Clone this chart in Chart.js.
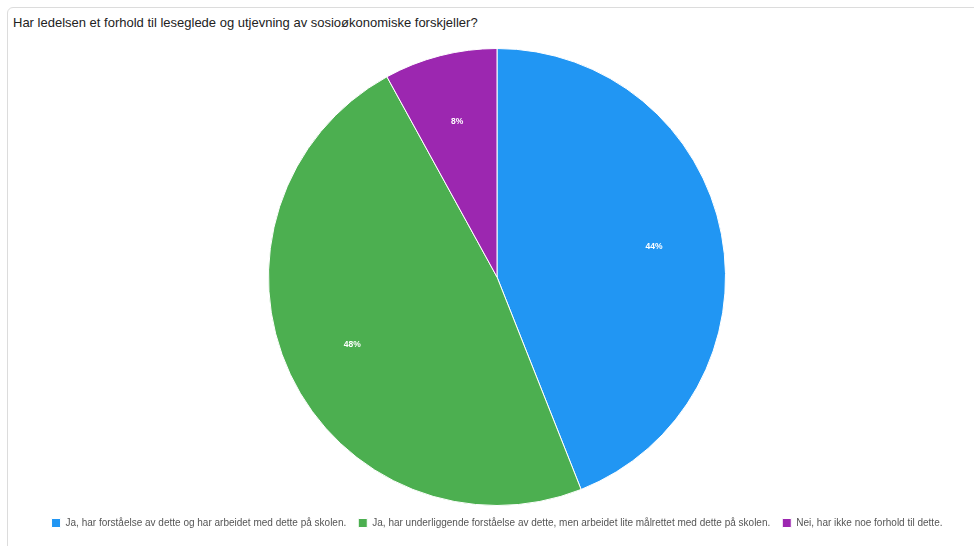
<!DOCTYPE html>
<html>
<head>
<meta charset="utf-8">
<script src="https://cdn.jsdelivr.net/npm/chart.js@4.4.1/dist/chart.umd.min.js"></script>
<style>
    html, body { margin: 0; padding: 0; background: #fff; }
    body { width: 974px; height: 546px; overflow: hidden; position: relative; font-family: "Liberation Sans", Arial, sans-serif; }
    .card { position: absolute; left: 7px; top: 7px; width: 990px; height: 560px; border: 1px solid #dcdcdc; border-radius: 6px; box-sizing: border-box; }
    .title { position: absolute; left: 13px; top: 15px; font-size: 13px; color: #222; white-space: nowrap; }
    #pieChart { position: absolute; left: 0; top: 0; }
</style>
</head>
<body>
<div class="card"></div>
<div class="title">Har ledelsen et forhold til leseglede og utjevning av sosioøkonomiske forskjeller?</div>
<canvas id="pieChart" width="974" height="546"></canvas>
<script>
document.addEventListener('DOMContentLoaded', function() {
    // answers
    const answerLabels = [
        'Ja, har forståelse av dette og har arbeidet med dette på skolen.',
        'Ja, har underliggende forståelse av dette, men arbeidet lite målrettet med dette på skolen.',
        'Nei, har ikke noe forhold til dette.'
    ];
    const answerShares = [44, 48, 8];
    const answerColors = ['#2196F3', '#4CAF50', '#9C27B0'];

    // percent text inside each slice
    const sliceLabels = {
        id: 'sliceLabels',
        afterDatasetsDraw(chart) {
            const ctx = chart.ctx;
            const meta = chart.getDatasetMeta(0);
            ctx.save();
            ctx.fillStyle = '#fff';
            ctx.font = 'bold 8.5px "Liberation Sans", Arial, sans-serif';
            ctx.textAlign = 'center';
            ctx.textBaseline = 'middle';
            meta.data.forEach((arc, i) => {
                const mid = (arc.startAngle + arc.endAngle) / 2;
                const r = arc.outerRadius * 0.7;
                ctx.fillText(answerShares[i] + '%', arc.x + Math.cos(mid) * r, arc.y + Math.sin(mid) * r);
            });
            ctx.restore();
        }
    };

    const ctx = document.getElementById('pieChart').getContext('2d');
    new Chart(ctx, {
        type: 'pie',
        data: {
            labels: answerLabels,
            datasets: [{
                data: answerShares,
                backgroundColor: answerColors,
                borderColor: '#fff',
                borderWidth: 1
            }]
        },
        options: {
            responsive: false,
            animation: false,
            layout: {
                padding: { top: 48, left: 20, right: 0, bottom: 8 }
            },
            plugins: {
                legend: {
                    position: 'bottom',
                    labels: {
                        boxWidth: 9,
                        boxHeight: 9,
                        padding: 12,
                        color: '#555',
                        font: { size: 10, family: '"Liberation Sans", Arial, sans-serif' }
                    }
                },
                tooltip: { enabled: false }
            }
        },
        plugins: [sliceLabels]
    });
});
</script>
</body>
</html>
